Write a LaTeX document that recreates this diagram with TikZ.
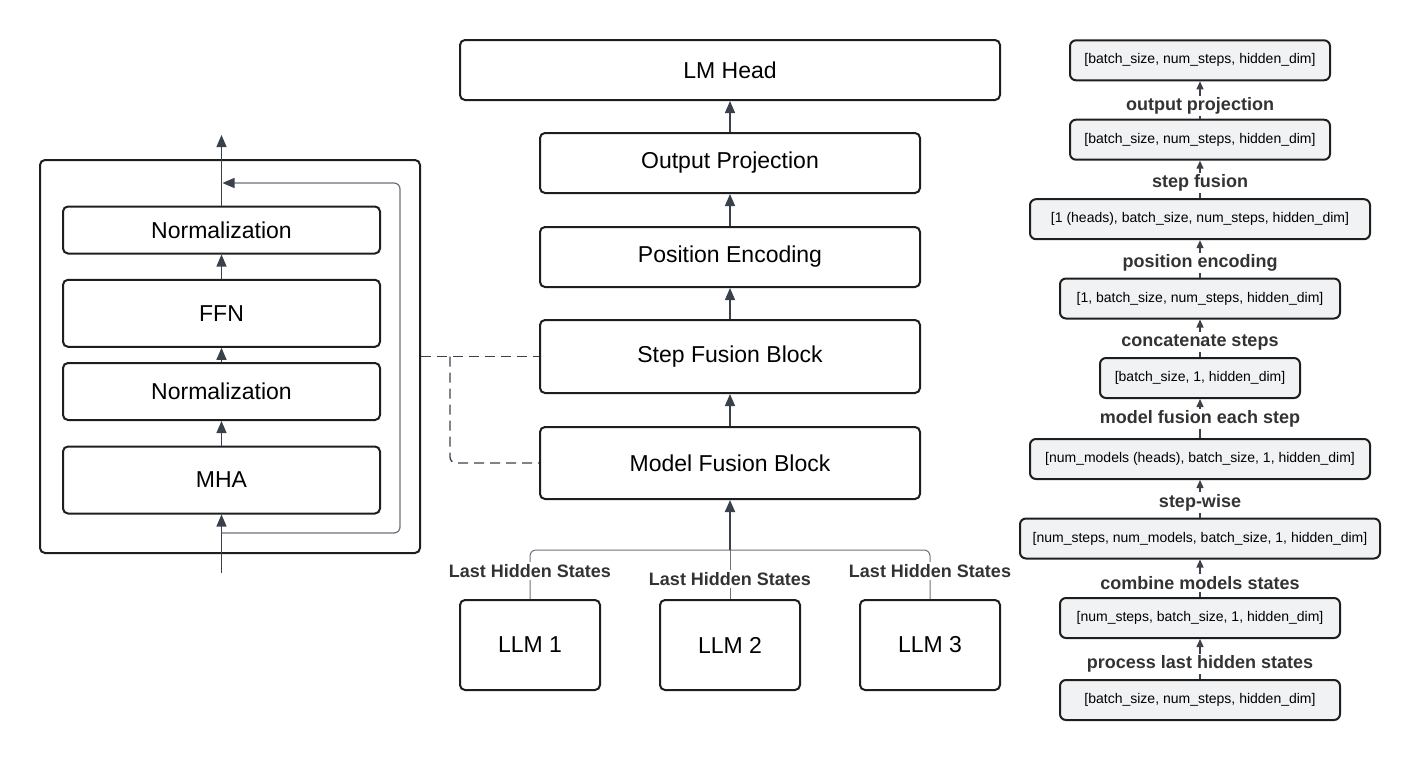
\documentclass[tikz,border=0pt]{standalone}
\usepackage{fontspec}
\setmainfont{Liberation Sans}
\usetikzlibrary{arrows.meta}
\definecolor{boxline}{HTML}{1E1E1E}
\definecolor{arrline}{HTML}{3A414B}
\definecolor{thinline}{HTML}{6B7079}
\definecolor{shapefill}{HTML}{F1F2F4}
\definecolor{labeltext}{HTML}{333333}
\tikzset{
  block/.style={draw=boxline,line width=1pt,rounded corners=2.5pt,minimum height=30pt,
    font=\fontsize{11.5}{14}\selectfont},
  shape box/.style={draw=boxline,line width=1pt,rounded corners=3pt,fill=shapefill,
    minimum height=20pt,font=\fontsize{7}{9}\selectfont},
  op label/.style={fill=white,inner sep=1pt,text=labeltext,font=\bfseries\fontsize{9}{11}\selectfont},
  arr/.style={draw=arrline,line width=0.65pt,-{Triangle[width=5pt,length=6pt]}},
  small arr/.style={draw=arrline,line width=0.65pt,-{Triangle[width=3.5pt,length=4pt]}},
  link/.style={draw=arrline,line width=0.65pt,dash pattern=on 5pt off 3pt,rounded corners=3pt},
  feed/.style={draw=thinline,line width=0.5pt,rounded corners=3pt}
}
\begin{document}
\begin{tikzpicture}[x=0.5pt,y=-0.5pt]
  \useasboundingbox (0,0) rectangle (1420,760);

  \node[block,minimum width=190pt,minimum height=196.5pt] (layer) at (230,356.5) {};
  \begin{scope}[every node/.style={block,minimum width=158.5pt}]
  \node[minimum height=23.5pt] (norm2) at (221.5,230) {Normalization};
  \node[minimum height=33.5pt] (ffn) at (221.5,313.3) {FFN};
  \node[minimum height=28.5pt] (norm1) at (221.5,391.5) {Normalization};
  \node[minimum height=33.5pt] (mha) at (221.5,480) {MHA};
  \end{scope}
  \coordinate (in) at (221.5,573);
  \coordinate (out) at (221.5,135);
  \coordinate (res) at (221.5,533);
  \coordinate (rc) at (400,183);
  \coordinate (rt) at (222.5,183);
  \begin{scope}[every edge/.style={arr}]
  \path (in) edge (mha.south);
  \path (mha.north) edge (norm1.south);
  \path (norm1.north) edge (ffn.south);
  \path (ffn.north) edge (norm2.south);
  \path (norm2.north) edge (out);
  \end{scope}
  \draw[feed,-{Triangle[width=5pt,length=6pt,color=arrline]},line width=0.6pt] (res) -| (rc) -- (rt);

  \begin{scope}[every node/.style={block,minimum width=190pt}]
  \node[minimum width=270pt] (lmhead) at (730,70) {LM Head};
  \node (outproj) at (730,163) {Output Projection};
  \node (posenc) at (730,257) {Position Encoding};
  \node[minimum height=36.5pt] (stepfuse) at (730,356.5) {Step Fusion Block};
  \node[minimum height=36pt] (modelfuse) at (730,463) {Model Fusion Block};
  \end{scope}
  \begin{scope}[every node/.style={block,minimum width=70pt,minimum height=45pt}]
  \node (llm1) at (530,645) {LLM 1};
  \node (llm2) at (730,645) {LLM 2};
  \node (llm3) at (930,645) {LLM 3};
  \end{scope}
  \coordinate (join) at (730,550);
  \coordinate (split) at (450,356.5);
  \begin{scope}[every edge/.style={arr}]
  \path (outproj.north) edge (lmhead.south);
  \path (posenc.north) edge (outproj.south);
  \path (stepfuse.north) edge (posenc.south);
  \path (modelfuse.north) edge (stepfuse.south);
  \end{scope}
  \draw[feed] (llm1.north) |- (join);
  \draw[feed] (llm3.north) |- (join);
  \draw[feed] (llm2.north) -- (join);
  \draw[arr,line width=1pt] (join) -- (modelfuse.south);
  \node[op label] (hs1) at (530,571) {Last Hidden States};
  \node[op label] (hs2) at (730,579) {Last Hidden States};
  \node[op label] (hs3) at (930,571) {Last Hidden States};
  \draw[link] (layer.east) -- (stepfuse.west);
  \draw[link] (split) |- (modelfuse.west);

  \node[shape box,minimum width=130pt] (s1) at (1200,60.3) {[batch\_size, num\_steps, hidden\_dim]};
  \node[shape box,minimum width=130pt] (s2) at (1200,139.7) {[batch\_size, num\_steps, hidden\_dim]};
  \node[shape box,minimum width=170pt] (s3) at (1200,219.2) {[1 (heads), batch\_size, num\_steps, hidden\_dim]};
  \node[shape box,minimum width=140pt] (s4) at (1200,298.5) {[1, batch\_size, num\_steps, hidden\_dim]};
  \node[shape box,minimum width=100pt] (s5) at (1200,378) {[batch\_size, 1, hidden\_dim]};
  \node[shape box,minimum width=170pt] (s6) at (1200,459) {[num\_models (heads), batch\_size, 1, hidden\_dim]};
  \node[shape box,minimum width=180pt] (s7) at (1200,538.5) {[num\_steps, num\_models, batch\_size, 1, hidden\_dim]};
  \node[shape box,minimum width=140pt] (s8) at (1200,618) {[num\_steps, batch\_size, 1, hidden\_dim]};
  \node[shape box,minimum width=140pt] (s9) at (1200,700) {[batch\_size, num\_steps, hidden\_dim]};
  \foreach \a/\b in {s2/s1,s3/s2,s4/s3,s5/s4,s6/s5,s7/s6,s8/s7,s9/s8}
    \path (\a.north) edge[small arr] (\b.south);
  \node[op label] (op1) at (1200,106) {output projection};
  \node[op label] (op2) at (1200,183) {step fusion};
  \node[op label] (op3) at (1200,263) {position encoding};
  \node[op label] (op4) at (1200,342) {concatenate steps};
  \node[op label] (op5) at (1200,419) {model fusion each step};
  \node[op label] (op6) at (1200,502.7) {step-wise};
  \node[op label] (op7) at (1200,583) {combine models states};
  \node[op label] (op8) at (1200,664) {process last hidden states};
\end{tikzpicture}
\end{document}
